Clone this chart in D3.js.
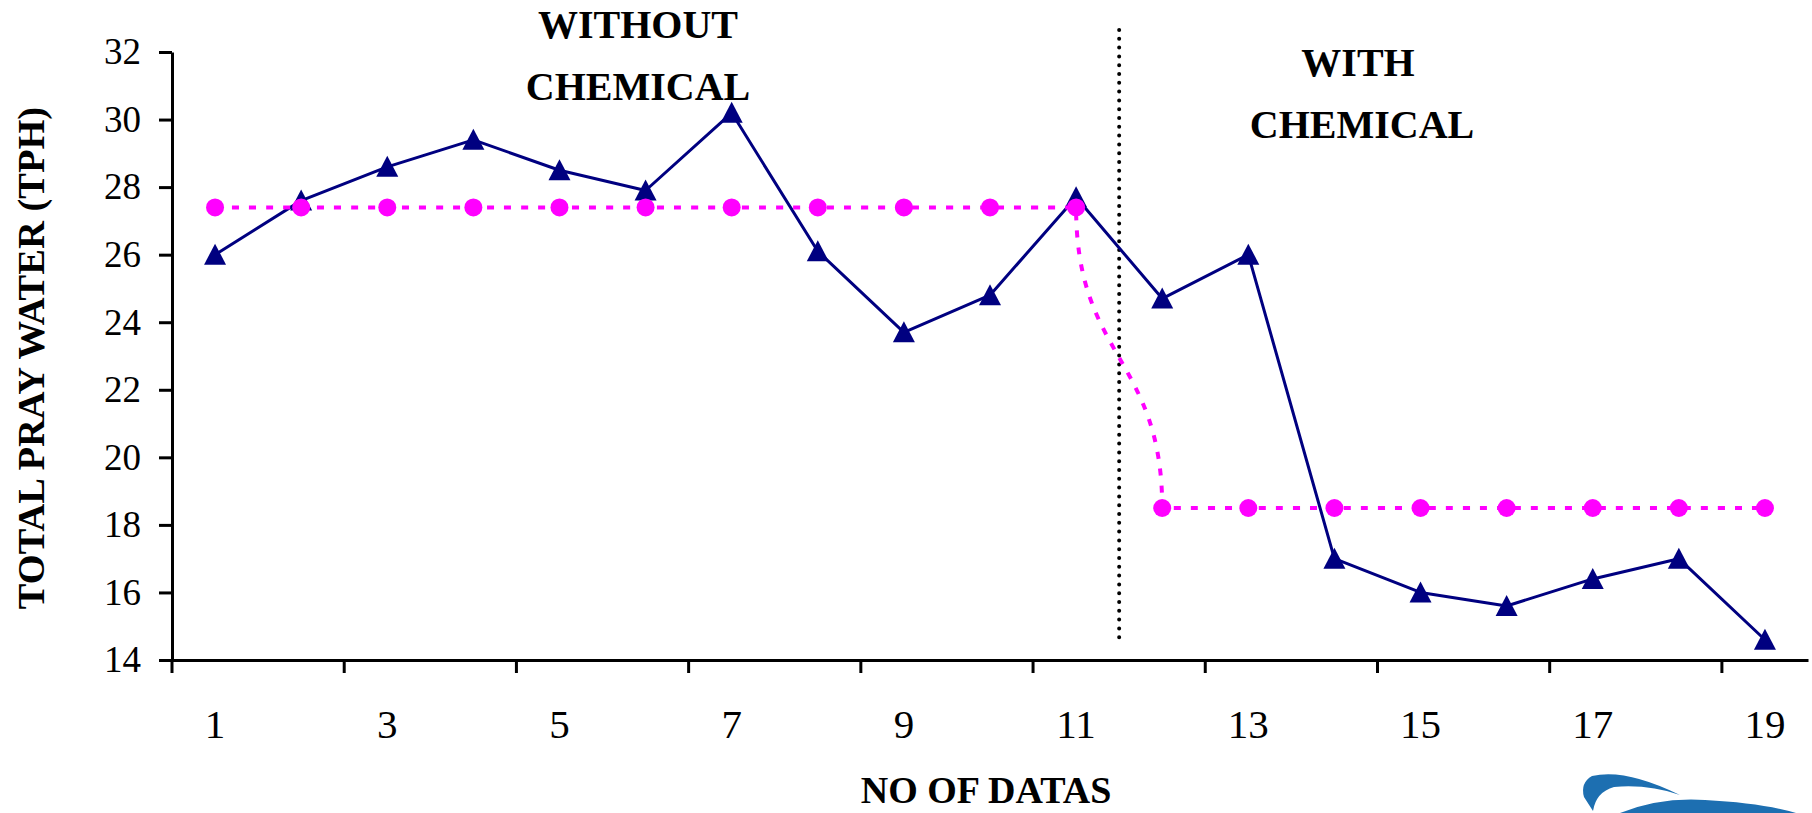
<!DOCTYPE html>
<html>
<head>
<meta charset="utf-8">
<script src="https://cdn.jsdelivr.net/npm/d3@7/dist/d3.min.js"></script>
<style>
  html, body { margin: 0; padding: 0; background: #fff; }
  svg { display: block; }
  text { font-family: "Liberation Serif", "Times New Roman", serif; fill: #000; }
</style>
</head>
<body>
<svg id="chart" width="1812" height="813"></svg>
<script>
// ---- data ----
const categories = [1, 2, 3, 4, 5, 6, 7, 8, 9, 10, 11, 12, 13, 14, 15, 16, 17, 18, 19];
const sprayWater = [26.0, 27.6, 28.6, 29.4, 28.5, 27.9, 30.2, 26.1, 23.7, 24.8, 27.7, 24.7, 26.0, 17.0, 16.0, 15.6, 16.4, 17.0, 14.6];
const averageLevel = [27.4, 27.4, 27.4, 27.4, 27.4, 27.4, 27.4, 27.4, 27.4, 27.4, 27.4, 18.5, 18.5, 18.5, 18.5, 18.5, 18.5, 18.5, 18.5];
const yTicks = [14, 16, 18, 20, 22, 24, 26, 28, 30, 32];
const xTickLabels = [1, 3, 5, 7, 9, 11, 13, 15, 17, 19];
const dividerAfter = 11; // last category without chemical

const svg = d3.select("#chart");

const x = d3.scaleBand().domain(categories).range([172, 1808]).padding(0);
const bw = x.bandwidth();
const cx = d => x(d) + bw / 2;
const y = d3.scaleLinear().domain([14, 32]).range([660, 52]);

// ---- axes ----
const yAxis = d3.axisLeft(y).tickValues(yTicks).tickSize(13).tickSizeOuter(0).tickPadding(18).tickFormat(d3.format("d"));
const gy = svg.append("g").attr("transform", "translate(172,0)").call(yAxis);
gy.select(".domain").attr("stroke", "#000").attr("stroke-width", 3);
gy.selectAll(".tick line").attr("stroke", "#000").attr("stroke-width", 3);
gy.selectAll(".tick text").attr("font-size", 37).attr("font-family", "Liberation Serif, serif").attr("fill", "#000");

const xAxis = d3.axisBottom(x).tickValues(xTickLabels).tickSize(13).tickSizeOuter(0);
const gx = svg.append("g").attr("transform", "translate(0,660)").call(xAxis);
gx.select(".domain").attr("stroke", "#000").attr("stroke-width", 3);
gx.selectAll(".tick line").attr("stroke", "#000").attr("stroke-width", 3).attr("transform", `translate(${-bw / 2},0)`);
gx.selectAll(".tick text").attr("font-size", 41).attr("font-family", "Liberation Serif, serif").attr("fill", "#000")
  .attr("y", 78).attr("dy", 0);

// ---- axis titles ----
svg.append("text").attr("x", 986).attr("y", 803).attr("text-anchor", "middle")
  .attr("font-size", 38).attr("font-weight", "bold").text("NO OF DATAS");
svg.append("text").attr("transform", "translate(44,358) rotate(-90)").attr("text-anchor", "middle")
  .attr("font-size", 38.5).attr("font-weight", "bold").text("TOTAL PRAY WATER (TPH)");

// ---- annotations ----
const ann = [
  { t: "WITHOUT", x: 638, y: 38 },
  { t: "CHEMICAL", x: 638, y: 100 },
  { t: "WITH", x: 1358, y: 76 },
  { t: "CHEMICAL", x: 1362, y: 138 }
];
svg.selectAll("text.ann").data(ann).join("text").attr("class", "ann")
  .attr("x", d => d.x).attr("y", d => d.y).attr("text-anchor", "middle")
  .attr("font-size", 40).attr("font-weight", "bold").text(d => d.t);

// ---- divider ----
const xd = x(dividerAfter) + bw;
svg.append("line").attr("x1", xd).attr("x2", xd).attr("y1", 30).attr("y2", 639)
  .attr("stroke", "#000").attr("stroke-width", 4).attr("stroke-linecap", "round")
  .attr("stroke-dasharray", "0,8.8");

// ---- navy series ----
const navy = "#000080";
const lineNavy = d3.line().x((d, i) => cx(categories[i])).y(d => y(d));
svg.append("path").datum(sprayWater).attr("d", lineNavy)
  .attr("fill", "none").attr("stroke", navy).attr("stroke-width", 3).attr("stroke-linejoin", "round");
svg.selectAll("path.tri").data(sprayWater).join("path").attr("class", "tri")
  .attr("transform", (d, i) => `translate(${cx(categories[i])},${y(d)})`)
  .attr("d", "M0,-11 L11,10 L-11,10 Z").attr("fill", navy);

// ---- magenta series ----
const mag = "#FF00FF";
const lineMag = d3.line().x((d, i) => cx(categories[i])).y(d => y(d)).curve(d3.curveBumpY);
svg.append("path").datum(averageLevel).attr("d", lineMag)
  .attr("fill", "none").attr("stroke", mag).attr("stroke-width", 4).attr("stroke-dasharray", "7,10");
svg.selectAll("circle.avg").data(averageLevel).join("circle").attr("class", "avg")
  .attr("cx", (d, i) => cx(categories[i])).attr("cy", d => y(d)).attr("r", 9).attr("fill", mag);

// ---- logo fragment (bottom right) ----
const logo = svg.append("g").attr("fill", "#1d6fb1");
logo.append("path").attr("d", "M1680,795 Q1625,768 1592,776 Q1580,783 1584,797 L1593,811 Q1596,792 1614,787 Q1648,784 1680,795 Z");
logo.append("path").attr("d", "M1620,813 Q1660,797 1705,800 Q1762,803 1796,813 Z");
</script>
</body>
</html>
